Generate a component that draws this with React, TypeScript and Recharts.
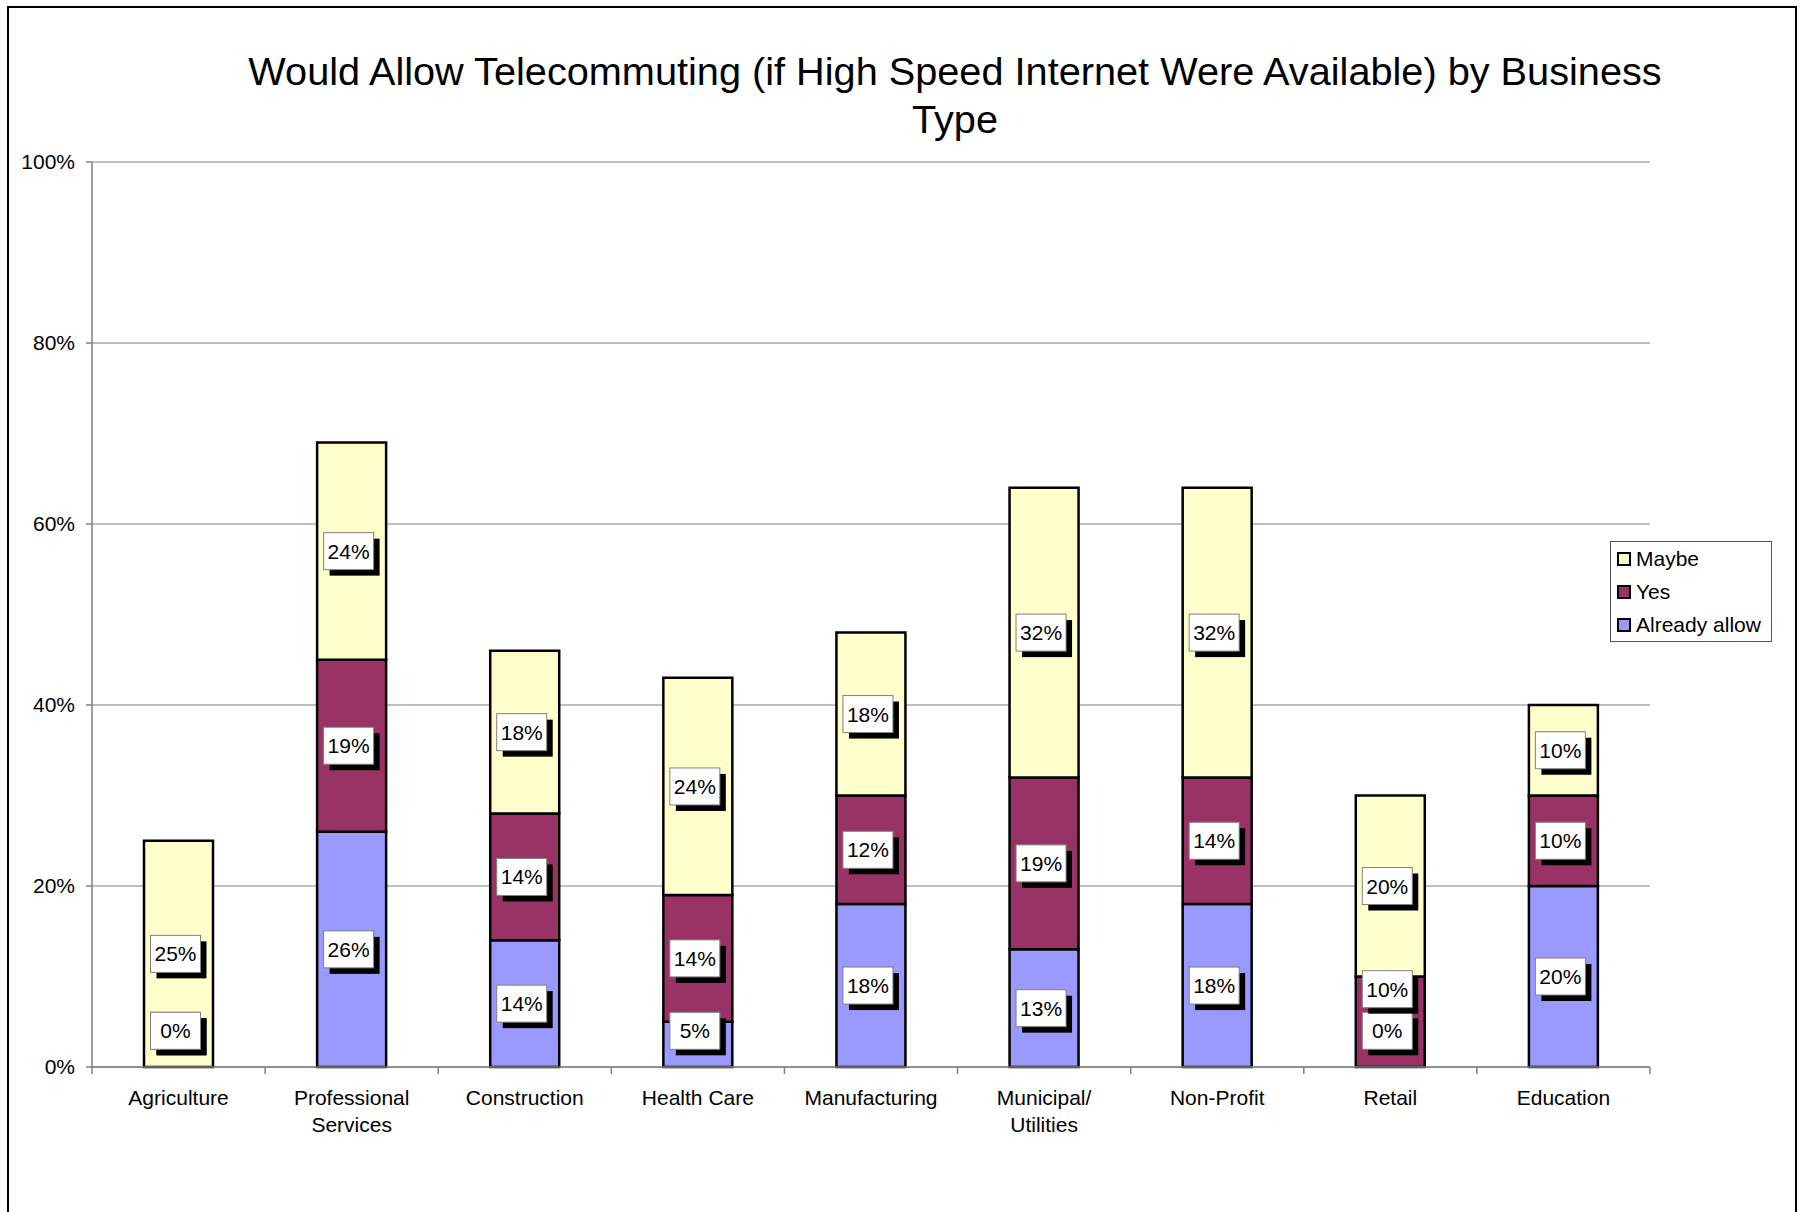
import { BarChart, Bar, XAxis, YAxis, CartesianGrid, Legend, LabelList } from 'recharts';

const categories = [
  'Agriculture',
  'Professional\nServices',
  'Construction',
  'Health Care',
  'Manufacturing',
  'Municipal/\nUtilities',
  'Non-Profit',
  'Retail',
  'Education',
];
const alreadyAllow = [0, 26, 14, 5, 18, 13, 18, 0, 20];
const yes = [0, 19, 14, 14, 12, 19, 14, 10, 10];
const maybe = [25, 24, 18, 24, 18, 32, 32, 20, 10];
const yTicks = [0, 20, 40, 60, 80, 100];

const SERIES = [
  { key: 'already', name: 'Already allow', values: alreadyAllow, color: '#9999FF' },
  { key: 'yes', name: 'Yes', values: yes, color: '#993366' },
  { key: 'maybe', name: 'Maybe', values: maybe, color: '#FFFFCC' },
];

const W = 1807;
const H = 1212;
const PLOT_TOP = 162;
const PLOT_BOTTOM = 1067;
const PLOT_LEFT = 92;
const PLOT_RIGHT = 1650;
const PPU = (PLOT_BOTTOM - PLOT_TOP) / 100;
const BAND = (PLOT_RIGHT - PLOT_LEFT) / categories.length;
const FONT = '"Liberation Sans", Arial, sans-serif';

const data = categories.map((c, i) => ({
  name: c,
  already: alreadyAllow[i],
  yes: yes[i],
  maybe: maybe[i],
}));

// label height above the base of its segment, in % units (keeps small labels from colliding)
const labelPos: number[][] = SERIES.map(() => []);
categories.forEach((_, i) => {
  let start = 0;
  let prev = -Infinity;
  SERIES.forEach((s, si) => {
    const v = s.values[i];
    let pos: number;
    if (v === 0) {
      pos = start + 4;
    } else {
      pos = Math.max(start + v / 2, start + 4, prev + 4.6);
    }
    prev = Math.max(prev, pos);
    labelPos[si][i] = pos - start;
    start += v;
  });
});

function ValueBox({ cx, cy, text }: { cx: number; cy: number; text: string }) {
  const bw = 50;
  const bh = 37;
  return (
    <g>
      <rect x={cx - bw / 2 + 6} y={cy - bh / 2 + 6} width={bw} height={bh} fill="#000" />
      <rect x={cx - bw / 2} y={cy - bh / 2} width={bw} height={bh} fill="#fff" stroke="#808080" strokeWidth={1} />
      <text x={cx} y={cy + 7.5} textAnchor="middle" fontSize={21} fontFamily={FONT} fill="#000">
        {text}
      </text>
    </g>
  );
}

// drawn from the top series (never zero) so every segment, zero ones too, gets its box above all bars
function StackLabels(props: any) {
  const { x, y, width, height } = props;
  const mid = Number(x) + Number(width) / 2;
  const idx = Math.min(categories.length - 1, Math.max(0, Math.floor((mid - PLOT_LEFT) / BAND)));
  const axisY = Number(y) + Number(height) + (alreadyAllow[idx] + yes[idx]) * PPU;
  let start = 0;
  return (
    <g>
      {SERIES.map((s, si) => {
        const v = s.values[idx];
        const cy = axisY - (start + labelPos[si][idx]) * PPU;
        start += v;
        return <ValueBox key={s.key} cx={mid - 3} cy={cy} text={`${v}%`} />;
      })}
    </g>
  );
}

function CategoryTick(props: any) {
  const { x, y, payload, index } = props;
  const half = payload?.offset || BAND / 2;
  const lines = String(payload.value).split('\n');
  return (
    <g>
      <line x1={x - half} x2={x - half} y1={y} y2={y + 7} stroke="#808080" strokeWidth={1.5} />
      {index === categories.length - 1 && (
        <line x1={x + half} x2={x + half} y1={y} y2={y + 7} stroke="#808080" strokeWidth={1.5} />
      )}
      <text x={x} y={y + 38} textAnchor="middle" fontSize={21} fontFamily={FONT} fill="#000">
        {lines.map((l, k) => (
          <tspan key={k} x={x} dy={k === 0 ? 0 : 27}>
            {l}
          </tspan>
        ))}
      </text>
    </g>
  );
}

function LegendBox() {
  return (
    <div
      style={{
        width: 162,
        height: 101,
        boxSizing: 'border-box',
        border: '1px solid #555',
        background: '#fff',
        fontFamily: FONT,
        fontSize: 21,
        color: '#000',
      }}
    >
      {[...SERIES].reverse().map((s) => (
        <div key={s.key} style={{ height: 33, display: 'flex', alignItems: 'center', paddingLeft: 6 }}>
          <span
            style={{
              display: 'inline-block',
              width: 14,
              height: 14,
              boxSizing: 'border-box',
              border: '2px solid #000',
              background: s.color,
              marginRight: 5,
            }}
          />
          <span>{s.name}</span>
        </div>
      ))}
    </div>
  );
}

export default function App() {
  return (
    <div style={{ position: 'absolute', left: 0, top: 0, width: W, height: H, overflow: 'hidden', background: '#fff' }}>
      <div
        style={{
          position: 'absolute',
          left: 7,
          top: 6,
          width: 1790,
          height: H - 6,
          boxSizing: 'border-box',
          border: '2px solid #000',
          borderBottom: 'none',
        }}
      />
      <div
        style={{
          position: 'absolute',
          left: 955 - 850,
          top: 47,
          width: 1700,
          textAlign: 'center',
          fontFamily: FONT,
          fontSize: 39.7,
          lineHeight: '48px',
          color: '#000',
          whiteSpace: 'nowrap',
        }}
      >
        Would Allow Telecommuting (if High Speed Internet Were Available) by Business
        <br />
        Type
      </div>
      <div style={{ position: 'absolute', left: 0, top: 0 }}>
        <BarChart
          width={W}
          height={H}
          data={data}
          margin={{ top: PLOT_TOP, right: W - PLOT_RIGHT, left: 12, bottom: H - PLOT_BOTTOM - 60 }}
          barSize={69}
        >
          <CartesianGrid horizontal vertical={false} stroke="#808080" strokeWidth={1.2} />
          <XAxis
            dataKey="name"
            interval={0}
            height={60}
            tickSize={0}
            tickMargin={0}
            tickLine={false}
            axisLine={{ stroke: '#808080', strokeWidth: 1.5 }}
            tick={<CategoryTick />}
          />
          <YAxis
            domain={[0, 100]}
            ticks={yTicks}
            interval={0}
            width={80}
            tickSize={6}
            tickMargin={11}
            tickFormatter={(v: number) => `${v}%`}
            axisLine={{ stroke: '#808080', strokeWidth: 1.5 }}
            tickLine={{ stroke: '#808080', strokeWidth: 1.5 }}
            tick={{ fill: '#000', fontSize: 21, fontFamily: FONT }}
          />
          <Legend
            layout="vertical"
            align="center"
            verticalAlign="middle"
            content={() => <LegendBox />}
            wrapperStyle={{ position: 'absolute', left: 1610, top: 541, width: 162, height: 101 }}
          />
          {SERIES.map((s, si) => (
            <Bar
              key={s.key}
              dataKey={s.key}
              name={s.name}
              stackId="a"
              fill={s.color}
              stroke="#000"
              strokeWidth={2.5}
              isAnimationActive={false}
            >
              {si === SERIES.length - 1 && <LabelList dataKey={s.key} content={StackLabels} />}
            </Bar>
          ))}
        </BarChart>
      </div>
    </div>
  );
}
